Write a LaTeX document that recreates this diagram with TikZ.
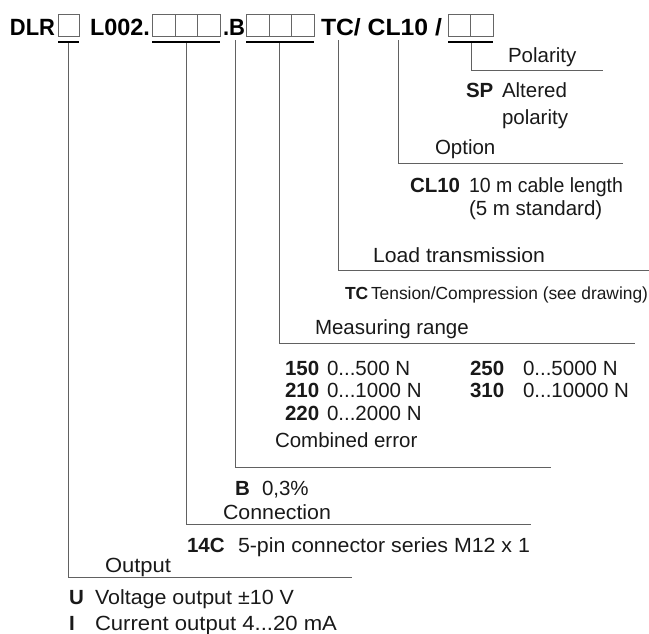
\documentclass[tikz,border=0pt]{standalone}
\usepackage{fontspec}
\setmainfont{Liberation Sans}
\newcommand\fitw[2]{\resizebox{#1pt}{\height}{#2}}
\begin{document}
\begin{tikzpicture}[x=1pt,y=-1pt,
  txt/.style={anchor=base west,inner sep=0pt,outer sep=0pt,font=\fontsize{20.5}{24}\selectfont,text=black!90},
  small/.style={anchor=base west,inner sep=0pt,outer sep=0pt,font=\fontsize{17.5}{20}\selectfont,text=black!90},
  head/.style={anchor=base west,inner sep=0pt,outer sep=0pt,font=\fontsize{23.5}{26}\selectfont\bfseries},
  cell/.style={draw=black!60,line width=0.8pt},
  bar/.style={draw=black,line width=2pt},
  lead/.style={draw=black!62,line width=1pt}]
\useasboundingbox (0,0) rectangle (649,633);
% header
\node[head] (dlr) at (10,35) {\fitw{45}{DLR}};
\node[head] (l002) at (90,35) {\fitw{60}{L002.}};
\node[head] (dotb) at (223,35) {\fitw{22}{.B}};
\node[head] (tccl) at (321,35) {\fitw{121}{TC/ CL10 /}};
% boxes
\draw[cell] (58,14) rectangle (79,36);
\draw[cell] (152,14) rectangle (220,36);
\draw[cell] (175,14) -- (175,36) (197,14) -- (197,36);
\draw[cell] (246,14) rectangle (314,36);
\draw[cell] (269,14) -- (269,36) (291,14) -- (291,36);
\draw[cell] (448,14) rectangle (493,36);
\draw[cell] (470,14) -- (470,36);
% bars
\draw[bar] (58,42) -- (79,42);
\draw[bar] (152,42) -- (220,42);
\draw[bar] (246,42) -- (314,42);
\draw[bar] (448,42) -- (493,42);
% coordinates for leaders
\coordinate (sOut) at (68,43);
\coordinate (sCon) at (186,43);
\coordinate (sErr) at (235,40);
\coordinate (sRng) at (279,43);
\coordinate (sLoad) at (338,40);
\coordinate (sOpt) at (398,40);
\coordinate (sPol) at (471,43);
\coordinate (eOut) at (352,577);
\coordinate (eCon) at (531,524);
\coordinate (eErr) at (551,467);
\coordinate (eRng) at (635,343);
\coordinate (eLoad) at (649,270);
\coordinate (eOpt) at (623,163);
\coordinate (ePol) at (603,70);
\draw[lead] (sOut) |- (eOut);
\draw[lead] (sCon) |- (eCon);
\draw[lead] (sErr) |- (eErr);
\draw[lead] (sRng) |- (eRng);
\draw[lead] (sLoad) |- (eLoad);
\draw[lead] (sOpt) |- (eOpt);
\draw[lead] (sPol) |- (ePol);
% texts
\node[txt] (pol) at (508,62) {Polarity};
\node[txt] (sp) at (466,97) {\bfseries SP};
\node[txt] (alt) at (502,97) {Altered};
\node[txt] (alt2) at (502,124) {polarity};
\node[txt] (opt) at (435,154) {Option};
\node[txt] (cl) at (410,192) {\bfseries CL10};
\node[txt] (cl1) at (469,192) {\fitw{154}{10 m cable length}};
\node[txt] (cl2) at (469,215) {(5 m standard)};
\node[txt] (load) at (373,262) {\fitw{172}{Load transmission}};
\node[small] (tc) at (345,299) {\bfseries TC};
\node[small] (tc1) at (371,299) {\fitw{277}{Tension/Compression (see drawing)}};
\node[txt] (rng) at (315,334) {Measuring range};
\node[txt] (r1) at (285,375) {\bfseries 150};
\node[txt] (r1t) at (327,375) {0...500 N};
\node[txt] (r2) at (285,397) {\bfseries 210};
\node[txt] (r2t) at (327,397) {0...1000 N};
\node[txt] (r3) at (285,420) {\bfseries 220};
\node[txt] (r3t) at (327,420) {0...2000 N};
\node[txt] (r4) at (470,375) {\bfseries 250};
\node[txt] (r4t) at (523,375) {0...5000 N};
\node[txt] (r5) at (470,397) {\bfseries 310};
\node[txt] (r5t) at (523,397) {0...10000 N};
\node[txt] (err) at (275,447) {Combined error};
\node[txt] (b) at (235,495) {\bfseries B};
\node[txt] (bt) at (262,495) {0,3\%};
\node[txt] (con) at (223,519) {\fitw{108}{Connection}};
\node[txt] (c14) at (187,552) {\bfseries 14C};
\node[txt] (c14t) at (238,552) {\fitw{292}{5-pin connector series M12 x 1}};
\node[txt] (out) at (105,572) {\fitw{66}{Output}};
\node[txt] (u) at (69,604) {\bfseries U};
\node[txt] (ut) at (95,604) {\fitw{199}{Voltage output ±10 V}};
\node[txt] (i) at (69,630) {\bfseries I};
\node[txt] (it) at (95,630) {\fitw{242}{Current output 4...20 mA}};
\end{tikzpicture}
\end{document}
